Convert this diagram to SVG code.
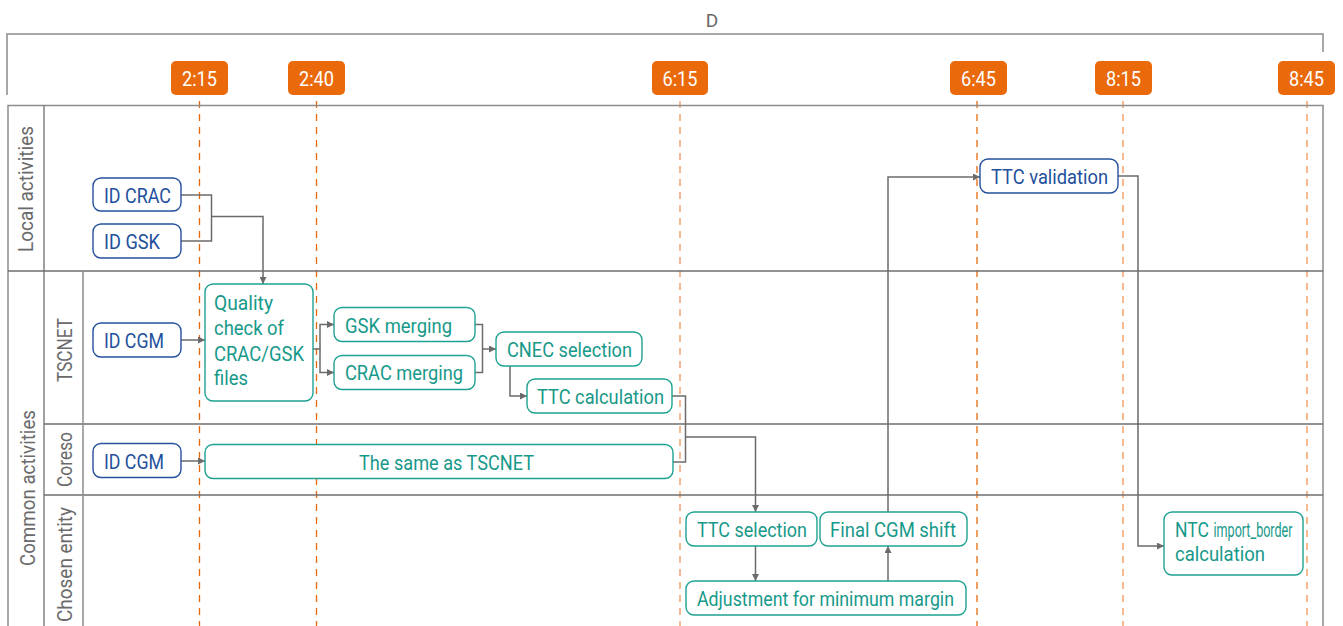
<svg xmlns="http://www.w3.org/2000/svg" width="1343" height="626" viewBox="0 0 1343 626">
  <style>
    .frame { fill: none; stroke: #8c8c8c; stroke-width: 1.5; }
    .grid { fill: none; stroke: #6e6e6e; stroke-width: 1.3; }
    .dash { stroke: #E8690C; stroke-width: 1.3; stroke-dasharray: 7 6; fill: none; }
    .dash-lt { stroke: #F4A46C; stroke-width: 1.5; stroke-dasharray: 7 6; fill: none; }
    .badge { fill: #EA6A0B; }
    .badge-t { font-family: Roboto, "Liberation Sans", sans-serif; font-size: 21px; fill: #ffffff; text-anchor: middle; }
    .lane { font-family: Roboto, "Liberation Sans", sans-serif; font-size: 21px; fill: #6a6a6a; text-anchor: middle; }
    .box-b { fill: #ffffff; stroke: #25509E; stroke-width: 1.4; }
    .box-g { fill: #ffffff; stroke: #1FA293; stroke-width: 1.4; }
    .t-b { font-family: Roboto, "Liberation Sans", sans-serif; font-size: 21px; fill: #23509C; }
    .t-g { font-family: Roboto, "Liberation Sans", sans-serif; font-size: 21px; fill: #17998A; }
    .con { fill: none; stroke: #6b6b6b; stroke-width: 1.5; }
  </style>
  <defs>
    <marker id="arr" viewBox="0 0 10 10" refX="10" refY="5" markerWidth="7" markerHeight="7" markerUnits="userSpaceOnUse" orient="auto">
      <path d="M0,0 L10,5 L0,10 Z" fill="#6b6b6b"/>
    </marker>
  </defs>

  <!-- day bracket -->
  <g id="day">
    <path class="frame" d="M7,95 V34 H1323 V52"/>
    <text x="712" y="27" font-family="Roboto, 'Liberation Sans', sans-serif" font-size="19" fill="#6a6a6a" text-anchor="middle">D</text>
  </g>

  <!-- time markers -->
  <g id="times">
    <line class="dash" x1="199.5" y1="101" x2="199.5" y2="626"/>
    <line class="dash" x1="316.5" y1="101" x2="316.5" y2="626"/>
    <line class="dash-lt" x1="680" y1="101" x2="680" y2="626"/>
    <line class="dash" x1="977" y1="101" x2="977" y2="626"/>
    <line class="dash-lt" x1="1123" y1="101" x2="1123" y2="626"/>
    <line class="dash-lt" x1="1307" y1="101" x2="1307" y2="626"/>
    <rect class="badge" x="171" y="61" width="57" height="34" rx="5"/>
    <text class="badge-t" x="199.5" y="86" textLength="35" lengthAdjust="spacingAndGlyphs">2:15</text>
    <rect class="badge" x="288" y="61" width="57" height="34" rx="5"/>
    <text class="badge-t" x="316.5" y="86" textLength="35" lengthAdjust="spacingAndGlyphs">2:40</text>
    <rect class="badge" x="652" y="61" width="56" height="34" rx="5"/>
    <text class="badge-t" x="680" y="86" textLength="35" lengthAdjust="spacingAndGlyphs">6:15</text>
    <rect class="badge" x="950" y="61" width="57" height="34" rx="5"/>
    <text class="badge-t" x="978.5" y="86" textLength="35" lengthAdjust="spacingAndGlyphs">6:45</text>
    <rect class="badge" x="1095" y="61" width="57" height="34" rx="5"/>
    <text class="badge-t" x="1123.5" y="86" textLength="35" lengthAdjust="spacingAndGlyphs">8:15</text>
    <rect class="badge" x="1278" y="61" width="57" height="34" rx="5"/>
    <text class="badge-t" x="1306.5" y="86" textLength="35" lengthAdjust="spacingAndGlyphs">8:45</text>
  </g>

  <!-- swimlane table -->
  <g id="lanes">
    <path class="frame" d="M8,626 V105.5 H1323 V626"/>
    <line class="grid" x1="8" y1="271" x2="1323" y2="271"/>
    <line class="grid" x1="44" y1="424" x2="1323" y2="424"/>
    <line class="grid" x1="44" y1="495" x2="1323" y2="495"/>
    <line class="grid" x1="44" y1="105.5" x2="44" y2="626"/>
    <line class="frame" x1="83" y1="271" x2="83" y2="626"/>
    <text class="lane" transform="translate(33,189) rotate(-90)" textLength="126" lengthAdjust="spacingAndGlyphs">Local activities</text>
    <text class="lane" transform="translate(34.5,488) rotate(-90)" textLength="156" lengthAdjust="spacingAndGlyphs">Common activities</text>
    <text class="lane" transform="translate(72,350) rotate(-90)" textLength="64" lengthAdjust="spacingAndGlyphs">TSCNET</text>
    <text class="lane" transform="translate(72,459.5) rotate(-90)" textLength="55" lengthAdjust="spacingAndGlyphs">Coreso</text>
    <text class="lane" transform="translate(72,564.5) rotate(-90)" textLength="115" lengthAdjust="spacingAndGlyphs">Chosen entity</text>
  </g>

  <!-- connectors -->
  <g id="connectors">
    <path class="con" d="M181,195 H211.5 V241 H181"/>
    <path class="con" d="M211.5,216.5 H263 V284" marker-end="url(#arr)"/>
    <path class="con" d="M181,340 H205" marker-end="url(#arr)"/>
    <path class="con" d="M313,349 H320 V324.5 H334" marker-end="url(#arr)"/>
    <path class="con" d="M320,349 V372.5 H334" marker-end="url(#arr)"/>
    <path class="con" d="M475,324.5 H482.5 V372.5 H475"/>
    <path class="con" d="M482.5,349 H496" marker-end="url(#arr)"/>
    <path class="con" d="M510,366 V396 H527" marker-end="url(#arr)"/>
    <path class="con" d="M672,396 H685.5 V462 H673"/>
    <path class="con" d="M181,461 H205" marker-end="url(#arr)"/>
    <path class="con" d="M685.5,437 H755.5 V512" marker-end="url(#arr)"/>
    <path class="con" d="M755.5,546 V581" marker-end="url(#arr)"/>
    <path class="con" d="M888,581 V546" marker-end="url(#arr)"/>
    <path class="con" d="M888,512 V177 H980" marker-end="url(#arr)"/>
    <path class="con" d="M1118,176 H1138 V546 H1164" marker-end="url(#arr)"/>
  </g>

  <!-- local activities -->
  <g id="id-crac">
    <rect class="box-b" x="93" y="178" width="88" height="33" rx="8"/>
    <text class="t-b" x="104" y="203" textLength="67" lengthAdjust="spacingAndGlyphs">ID CRAC</text>
  </g>
  <g id="id-gsk">
    <rect class="box-b" x="93" y="224" width="88" height="34" rx="8"/>
    <text class="t-b" x="104" y="248.5" textLength="56" lengthAdjust="spacingAndGlyphs">ID GSK</text>
  </g>
  <g id="ttc-validation">
    <rect class="box-b" x="980" y="159" width="138" height="34" rx="8"/>
    <text class="t-b" x="991" y="183.5" textLength="117" lengthAdjust="spacingAndGlyphs">TTC validation</text>
  </g>

  <!-- TSCNET -->
  <g id="id-cgm-tscnet">
    <rect class="box-b" x="93" y="323" width="88" height="34" rx="8"/>
    <text class="t-b" x="104" y="347.5" textLength="60" lengthAdjust="spacingAndGlyphs">ID CGM</text>
  </g>
  <g id="quality-check">
    <rect class="box-g" x="205" y="284" width="108" height="117" rx="8"/>
    <text class="t-g" x="214" y="309.5" textLength="59" lengthAdjust="spacingAndGlyphs">Quality</text>
    <text class="t-g" x="214" y="335" textLength="70" lengthAdjust="spacingAndGlyphs">check of</text>
    <text class="t-g" x="214" y="360.5" textLength="90" lengthAdjust="spacingAndGlyphs">CRAC/GSK</text>
    <text class="t-g" x="214" y="385" textLength="34" lengthAdjust="spacingAndGlyphs">files</text>
  </g>
  <g id="gsk-merging">
    <rect class="box-g" x="334" y="307.5" width="141" height="34" rx="8"/>
    <text class="t-g" x="345" y="332.5" textLength="107" lengthAdjust="spacingAndGlyphs">GSK merging</text>
  </g>
  <g id="crac-merging">
    <rect class="box-g" x="334" y="355.5" width="141" height="34" rx="8"/>
    <text class="t-g" x="345" y="380" textLength="118" lengthAdjust="spacingAndGlyphs">CRAC merging</text>
  </g>
  <g id="cnec-selection">
    <rect class="box-g" x="496" y="332" width="146" height="34" rx="8"/>
    <text class="t-g" x="507" y="356.5" textLength="125" lengthAdjust="spacingAndGlyphs">CNEC selection</text>
  </g>
  <g id="ttc-calculation">
    <rect class="box-g" x="527" y="379" width="145" height="34" rx="8"/>
    <text class="t-g" x="537" y="403.5" textLength="127" lengthAdjust="spacingAndGlyphs">TTC calculation</text>
  </g>

  <!-- Coreso -->
  <g id="id-cgm-coreso">
    <rect class="box-b" x="93" y="443.5" width="88" height="34" rx="8"/>
    <text class="t-b" x="104" y="468.5" textLength="60" lengthAdjust="spacingAndGlyphs">ID CGM</text>
  </g>
  <g id="same-as-tscnet">
    <rect class="box-g" x="205" y="444.5" width="468" height="34" rx="8"/>
    <text class="t-g" x="446.5" y="469.5" text-anchor="middle" textLength="175" lengthAdjust="spacingAndGlyphs">The same as TSCNET</text>
  </g>

  <!-- chosen entity -->
  <g id="ttc-selection">
    <rect class="box-g" x="686" y="512" width="131" height="34" rx="8"/>
    <text class="t-g" x="697" y="537" textLength="110" lengthAdjust="spacingAndGlyphs">TTC selection</text>
  </g>
  <g id="final-cgm-shift">
    <rect class="box-g" x="820" y="512" width="147" height="34" rx="8"/>
    <text class="t-g" x="830" y="537" textLength="126" lengthAdjust="spacingAndGlyphs">Final CGM shift</text>
  </g>
  <g id="adjustment">
    <rect class="box-g" x="686" y="581" width="280" height="34" rx="8"/>
    <text class="t-g" x="697" y="605.5" textLength="257" lengthAdjust="spacingAndGlyphs">Adjustment for minimum margin</text>
  </g>
  <g id="ntc-calculation">
    <rect class="box-g" x="1164" y="512" width="139" height="63" rx="8"/>
    <text class="t-g" x="1175" y="536.5" textLength="34" lengthAdjust="spacingAndGlyphs">NTC</text>
    <text class="t-g" x="1213.5" y="536.5" font-size="12.5" textLength="79" lengthAdjust="spacingAndGlyphs">import_border</text>
    <text class="t-g" x="1175" y="561" textLength="90" lengthAdjust="spacingAndGlyphs">calculation</text>
  </g>
</svg>
